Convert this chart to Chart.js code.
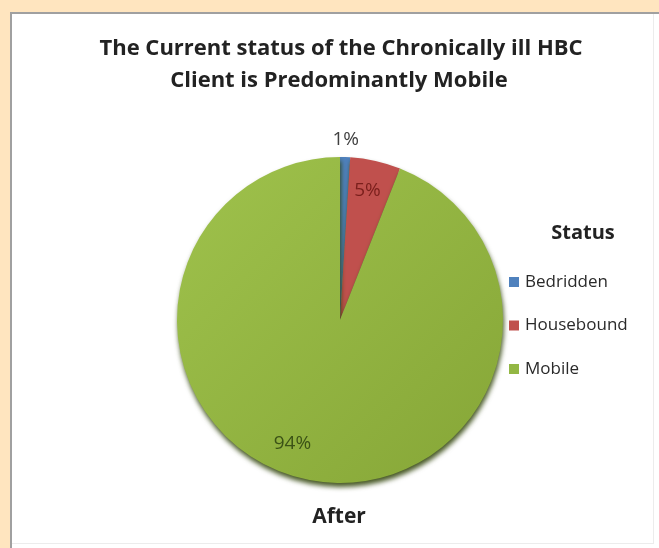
<!DOCTYPE html>
<html>
<head>
<meta charset="utf-8">
<script src="https://cdn.jsdelivr.net/npm/chart.js@4.4.1/dist/chart.umd.min.js"></script>
<style>
  html, body { margin: 0; padding: 0; background: #ffe5bf; overflow: hidden; }
  #panel {
    position: absolute; left: 10px; top: 12px; width: 649px; height: 536px;
    background: #fff;
    border-left: 2px solid #a0a0a0; border-top: 2px solid #a0a0a0;
  }
  #inner {
    position: absolute; left: 0; top: 0; width: 641px; height: 529px;
    border-right: 1px solid #ececec; border-bottom: 1px solid #ececec;
  }
  #wrap { position: absolute; left: 0; top: 0; width: 659px; height: 548px; }
</style>
</head>
<body>
<div id="panel"><div id="inner"></div></div>
<div id="wrap"><canvas id="statusChart"></canvas></div>
<script>
// chart data
const statusLabels = ['Bedridden', 'Housebound', 'Mobile'];
const statusValues = [1, 5, 94];
const titleLines = ['The Current status of the Chronically ill HBC', 'Client is Predominantly Mobile'];
const legendTitle = 'Status';
const bottomLabel = 'After';

// colours (Office theme)
const sliceColors = ['#4f81bd', '#c0504d', '#93b744'];
const labelColors = ['#404040', '#7a1f1c', '#3b5216'];

document.addEventListener('DOMContentLoaded', () => {
    const ctx = document.getElementById('statusChart').getContext('2d');

    // drop shadow under the pie, like the 3D look of the original
    const pieShadow = {
        id: 'pieShadow',
        beforeDatasetsDraw(chart) {
            const c = chart.ctx;
            c.save();
            c.shadowColor = 'rgba(40,60,0,0.85)';
            c.shadowBlur = 5;
            c.shadowOffsetX = 1;
            c.shadowOffsetY = 4;
        },
        afterDatasetsDraw(chart) {
            chart.ctx.restore();
        }
    };

    // title, legend, percent labels and "After"
    const texts = {
        id: 'texts',
        afterDraw(chart) {
            const c = chart.ctx;
            c.save();
            c.textBaseline = 'middle';
            c.textAlign = 'center';
            c.fillStyle = '#222';
            c.font = 'bold 22px "Open Sans", sans-serif';
            c.fillText(titleLines[0], 341, 49);
            c.fillText(titleLines[1], 339, 81);

            c.font = 'bold 21px "Open Sans", sans-serif';
            c.fillText(bottomLabel, 339, 517);

            // percent labels placed from the arcs
            const meta = chart.getDatasetMeta(0);
            const place = [
                { r: 1.11, da: 0 },
                { r: 0.81, da: -0.01 },
                { r: 0.81, da: 0.18 }
            ];
            c.font = '19px "Open Sans", sans-serif';
            meta.data.forEach((arc, i) => {
                const mid = (arc.startAngle + arc.endAngle) / 2 + place[i].da;
                const rr = arc.outerRadius * place[i].r;
                c.fillStyle = labelColors[i];
                c.fillText(statusValues[i] + '%', arc.x + Math.cos(mid) * rr, arc.y + Math.sin(mid) * rr);
            });

            // legend
            c.fillStyle = '#222';
            c.font = 'bold 20px "Open Sans", sans-serif';
            c.fillText(legendTitle, 583, 233);
            c.textAlign = 'left';
            c.font = '17px "Open Sans", sans-serif';
            statusLabels.forEach((lab, i) => {
                const y = 282 + i * 43.5;
                c.fillStyle = sliceColors[i];
                c.fillRect(509, y - 5, 10, 10);
                c.fillStyle = '#2a2a2a';
                c.fillText(lab, 525, y);
            });
            c.restore();
        }
    };

    new Chart(ctx, {
        type: 'pie',
        data: {
            labels: statusLabels,
            datasets: [{
                data: statusValues,
                backgroundColor: function (context) {
                    const chart = context.chart;
                    const area = chart.chartArea;
                    if (!area) return sliceColors[context.dataIndex];
                    if (context.dataIndex !== 2) return sliceColors[context.dataIndex];
                    const g = chart.ctx.createLinearGradient(area.left, area.top, area.right, area.bottom);
                    g.addColorStop(0, '#9fc24c');
                    g.addColorStop(1, '#86a637');
                    return g;
                },
                borderWidth: 0
            }]
        },
        options: {
            responsive: true,
            maintainAspectRatio: false,
            animation: false,
            layout: {
                padding: { left: 177, right: 156, top: 157, bottom: 65 }
            },
            plugins: {
                legend: { display: false },
                title: { display: false },
                tooltip: { enabled: false }
            }
        },
        plugins: [pieShadow, texts]
    });
});
</script>
</body>
</html>
